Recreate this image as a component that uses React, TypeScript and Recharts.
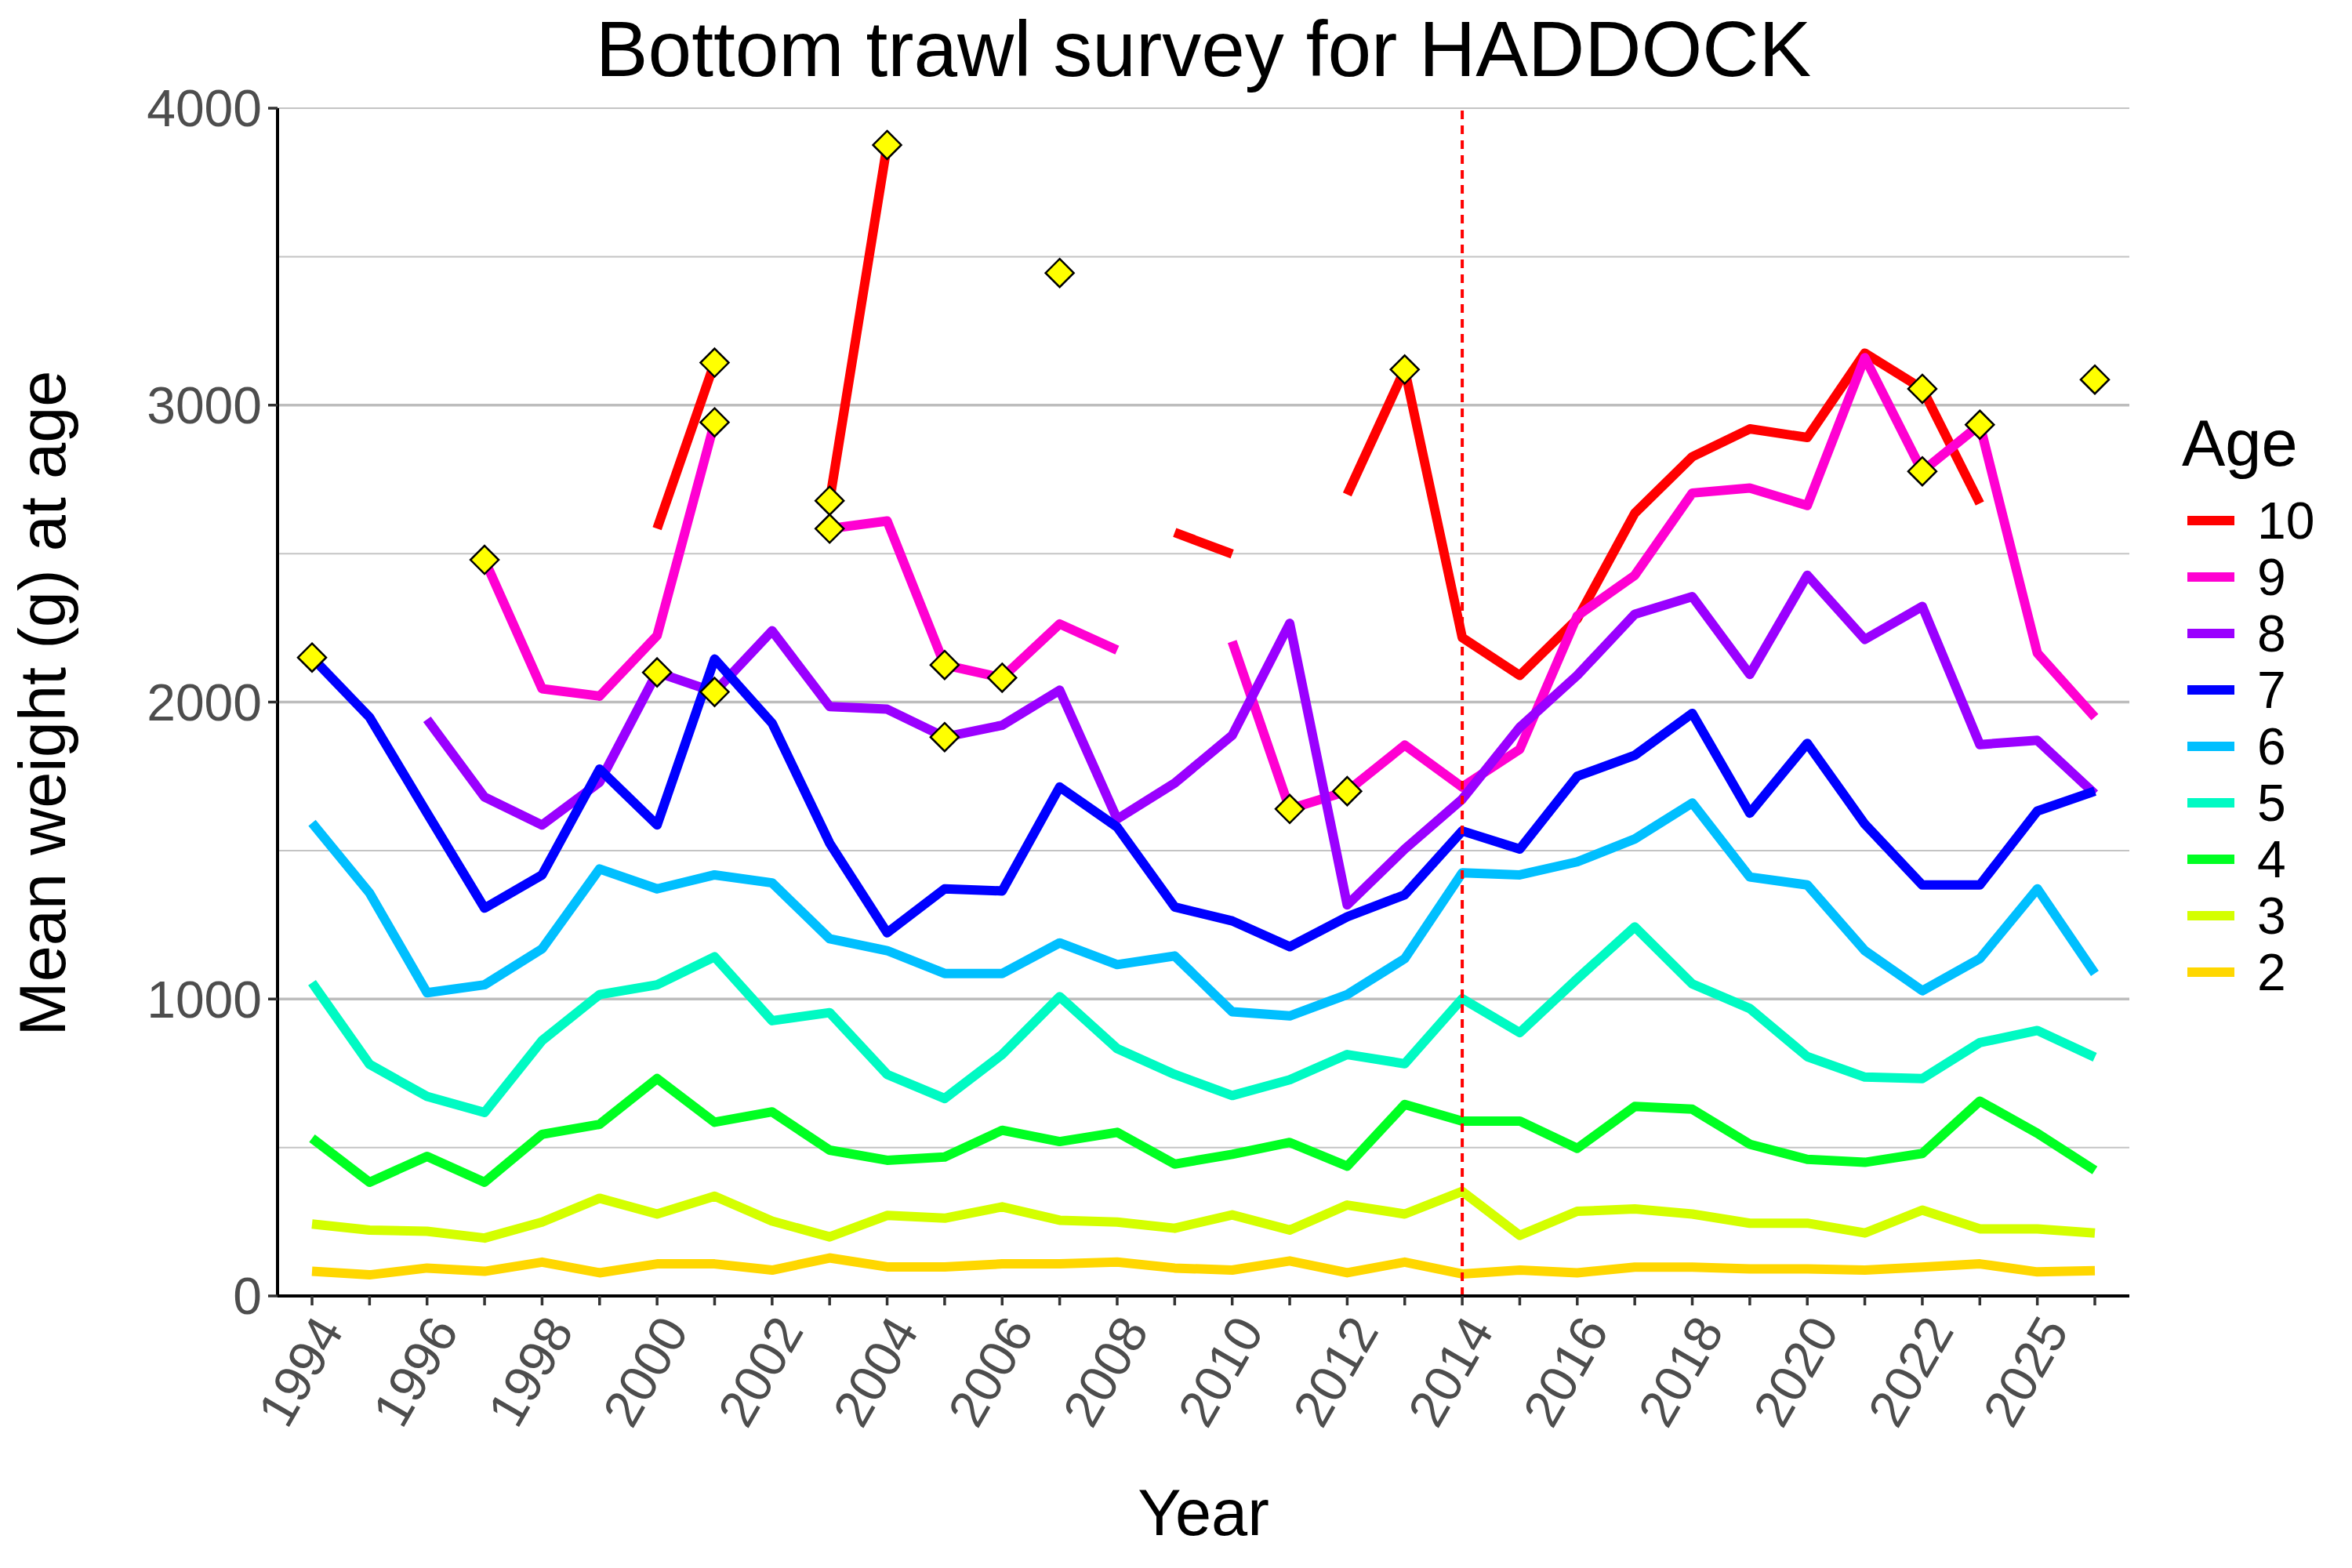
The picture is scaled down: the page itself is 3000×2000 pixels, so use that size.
import React from 'react';
import { LineChart, Line, XAxis, YAxis, CartesianGrid, ReferenceLine, Legend } from 'recharts';

const FONT = '"Liberation Sans", Arial, sans-serif';

const years = [
  '1994', '1995', '1996', '1997', '1998', '1999', '2000', '2001', '2002', '2003',
  '2004', '2005', '2006', '2007', '2008', '2009', '2010', '2011', '2012', '2013',
  '2014', '2015', '2016', '2017', '2018', '2019', '2020', '2021', '2022', '2023',
  '2025', '2026',
];

const age2 = [83, 71, 94, 83, 114, 78, 108, 108, 87, 128, 98, 98, 108, 108, 114, 94, 87, 118, 78, 114, 74, 87, 78, 97, 97, 91, 91, 87, 97, 108, 81, 85];
const age3 = [242, 222, 218, 195, 249, 329, 276, 336, 252, 199, 271, 262, 300, 255, 249, 228, 273, 222, 306, 276, 352, 204, 285, 293, 276, 245, 245, 212, 289, 226, 226, 212];
const age4 = [531, 383, 470, 383, 544, 578, 732, 585, 620, 491, 457, 468, 558, 520, 551, 444, 477, 517, 437, 645, 589, 589, 497, 638, 629, 511, 460, 450, 480, 656, 548, 423];
const age5 = [1055, 780, 672, 618, 860, 1015, 1048, 1142, 927, 954, 746, 665, 813, 1008, 833, 746, 675, 728, 813, 782, 1001, 887, 1068, 1243, 1051, 968, 806, 737, 732, 853, 894, 804];
const age6 = [1593, 1357, 1021, 1048, 1169, 1438, 1371, 1418, 1391, 1203, 1163, 1086, 1086, 1189, 1116, 1145, 957, 943, 1015, 1136, 1425, 1418, 1462, 1539, 1660, 1411, 1384, 1163, 1028, 1136, 1371, 1086];
const age7 = [2150, 1949, 1626, 1306, 1418, 1774, 1586, 2145, 1929, 1525, 1223, 1371, 1364, 1714, 1579, 1310, 1263, 1176, 1277, 1351, 1566, 1505, 1750, 1821, 1962, 1626, 1861, 1589, 1384, 1384, 1633, 1700];
const age8 = [null, null, 1942, 1680, 1586, 1730, 2100, 2034, 2240, 1985, 1976, 1882, 1922, 2040, 1606, 1727, 1888, 2265, 1317, 1505, 1673, 1915, 2090, 2296, 2355, 2093, 2427, 2211, 2322, 1857, 1871, 1691];
const age9 = [null, null, null, 2479, 2045, 2020, 2224, 2942, null, 2584, 2610, 2125, 2082, 2263, 2175, null, 2204, 1640, 1700, 1855, 1714, 1841, 2290, 2427, 2704, 2721, 2662, 3160, 2777, 2934, 2165, 1949];
const age10 = [null, null, null, null, null, null, 2584, 3143, null, 2678, 3876, null, null, null, null, 2571, 2499, null, 2699, 3120, 2217, 2090, 2280, 2636, 2826, 2920, 2891, 3175, 3055, 2669, null, null];

// yellow diamond markers
const markA = [2150, null, null, 2479, null, null, 2100, 3143, null, 2678, 3876, 2125, 2082, 3445, null, null, null, 1640, 1700, 3120, null, null, null, null, null, null, null, null, 3055, 2934, null, 3086];
const markB = [null, null, null, null, null, null, null, 2942, null, 2584, null, 1882, null, null, null, null, null, null, null, null, null, null, null, null, null, null, null, null, 2777, null, null, null];
const markC = [null, null, null, null, null, null, null, 2034, null, null, null, null, null, null, null, null, null, null, null, null, null, null, null, null, null, null, null, null, null, null, null, null];

const ageLabels = ['10', '9', '8', '7', '6', '5', '4', '3', '2'];
const ageKeys = ['a10', 'a9', 'a8', 'a7', 'a6', 'a5', 'a4', 'a3', 'a2'];
const ageColors = ['#FF0000', '#FF00D2', '#9A00FF', '#0000FF', '#00BFFF', '#00FAC3', '#00FF22', '#D4FF00', '#FFD700'];
const ageSeries = [age10, age9, age8, age7, age6, age5, age4, age3, age2];

const yTicks = [0, 1000, 2000, 3000, 4000];
const minorGrid = [500, 1500, 2500, 3500, 4000];
const majorGrid = [1000, 2000, 3000];

const data = years.map((year, i) => {
  const row: any = { year };
  ageKeys.forEach((k, j) => {
    row[k] = ageSeries[j][i];
  });
  row.mA = markA[i];
  row.mB = markB[i];
  row.mC = markC[i];
  return row;
});

const Diamond = (props: any) => {
  const { cx, cy, value, index } = props;
  if (value == null || cx == null || cy == null || Number.isNaN(cy)) return <g key={`e-${index}`} />;
  const r = 18;
  return (
    <path
      key={`d-${index}`}
      d={`M${cx},${cy - r}L${cx + r},${cy}L${cx},${cy + r}L${cx - r},${cy}Z`}
      fill="#FFFF00"
      stroke="#000000"
      strokeWidth={2.5}
    />
  );
};

const XTick = (props: any) => {
  const { x, y, payload } = props;
  const idx = years.indexOf(String(payload.value));
  if (idx % 2 !== 0) return <g />;
  return (
    <text
      x={x}
      y={y}
      transform={`rotate(-60 ${x} ${y})`}
      textAnchor="end"
      dominantBaseline="hanging"
      fontSize={66}
      fontFamily={FONT}
      fill="#4D4D4D"
    >
      {payload.value}
    </text>
  );
};

const renderLegend = () => (
  <div style={{ position: 'relative', width: 217, height: 760, fontFamily: FONT, color: '#000' }}>
    <div style={{ position: 'absolute', left: 0, top: 4, fontSize: 83, lineHeight: '83px', whiteSpace: 'nowrap' }}>Age</div>
    {ageLabels.map((lab, j) => (
      <div
        key={lab}
        style={{
          position: 'absolute',
          left: 7,
          top: 144 - 36 + j * 72,
          height: 72,
          display: 'flex',
          alignItems: 'center',
        }}
      >
        <div style={{ width: 60, height: 12, background: ageColors[j] }} />
        <div style={{ marginLeft: 29, fontSize: 66, lineHeight: '66px' }}>{lab}</div>
      </div>
    ))}
  </div>
);

export default function App() {
  return (
    <div style={{ position: 'absolute', left: 0, top: 0, width: 3000, height: 2000, background: '#FFFFFF', fontFamily: FONT }}>
      <div
        style={{
          position: 'absolute', left: 1535, top: 12, transform: 'translateX(-50%)',
          fontSize: 100, lineHeight: '100px', whiteSpace: 'nowrap', color: '#000',
        }}
      >
        Bottom trawl survey for HADDOCK
      </div>
      <div
        style={{
          position: 'absolute', left: 54, top: 897, transform: 'translate(-50%, -50%) rotate(-90deg)',
          fontSize: 83, lineHeight: '83px', whiteSpace: 'nowrap', color: '#000',
        }}
      >
        Mean weight (g) at age
      </div>
      <div
        style={{
          position: 'absolute', left: 1535, top: 1888, transform: 'translateX(-50%)',
          fontSize: 83, lineHeight: '83px', whiteSpace: 'nowrap', color: '#000',
        }}
      >
        Year
      </div>
      <LineChart
        width={3000}
        height={2000}
        data={data}
        margin={{ top: 138, right: 284, bottom: 0, left: 0 }}
      >
        <CartesianGrid vertical={false} horizontalValues={minorGrid} stroke="#C4C4C4" strokeWidth={2} />
        <CartesianGrid vertical={false} horizontalValues={majorGrid} stroke="#BDBDBD" strokeWidth={3.5} />
        <XAxis
          dataKey="year"
          type="category"
          interval={0}
          height={347}
          padding={{ left: 44, right: 44 }}
          tick={<XTick />}
          tickSize={12}
          tickMargin={8}
          axisLine={{ stroke: '#000000', strokeWidth: 4 }}
          tickLine={{ stroke: '#333333', strokeWidth: 3.5 }}
        />
        <YAxis
          type="number"
          domain={[0, 4000]}
          ticks={yTicks}
          interval={0}
          width={354}
          allowDataOverflow
          tickSize={12}
          tickMargin={8}
          axisLine={{ stroke: '#000000', strokeWidth: 4 }}
          tickLine={{ stroke: '#333333', strokeWidth: 3.5 }}
          tick={{ fontSize: 66, fill: '#4D4D4D', fontFamily: FONT }}
        />
        <Legend
          layout="vertical"
          align="center"
          verticalAlign="middle"
          wrapperStyle={{ left: 2783, top: 520, width: 217, height: 760 }}
          content={renderLegend}
        />
        {ageKeys.map((k, j) => (
          <Line
            key={k}
            dataKey={k}
            name={ageLabels[j]}
            type="linear"
            stroke={ageColors[j]}
            strokeWidth={12}
            strokeLinejoin="round"
            strokeLinecap="butt"
            dot={false}
            activeDot={false}
            connectNulls={false}
            isAnimationActive={false}
          />
        ))}
        <ReferenceLine x="2014" stroke="#FF0000" strokeWidth={4} strokeDasharray="11 8" />
        {['mA', 'mB', 'mC'].map((k) => (
          <Line
            key={k}
            dataKey={k}
            stroke="none"
            legendType="none"
            dot={Diamond}
            activeDot={false}
            connectNulls={false}
            isAnimationActive={false}
          />
        ))}
      </LineChart>
    </div>
  );
}
